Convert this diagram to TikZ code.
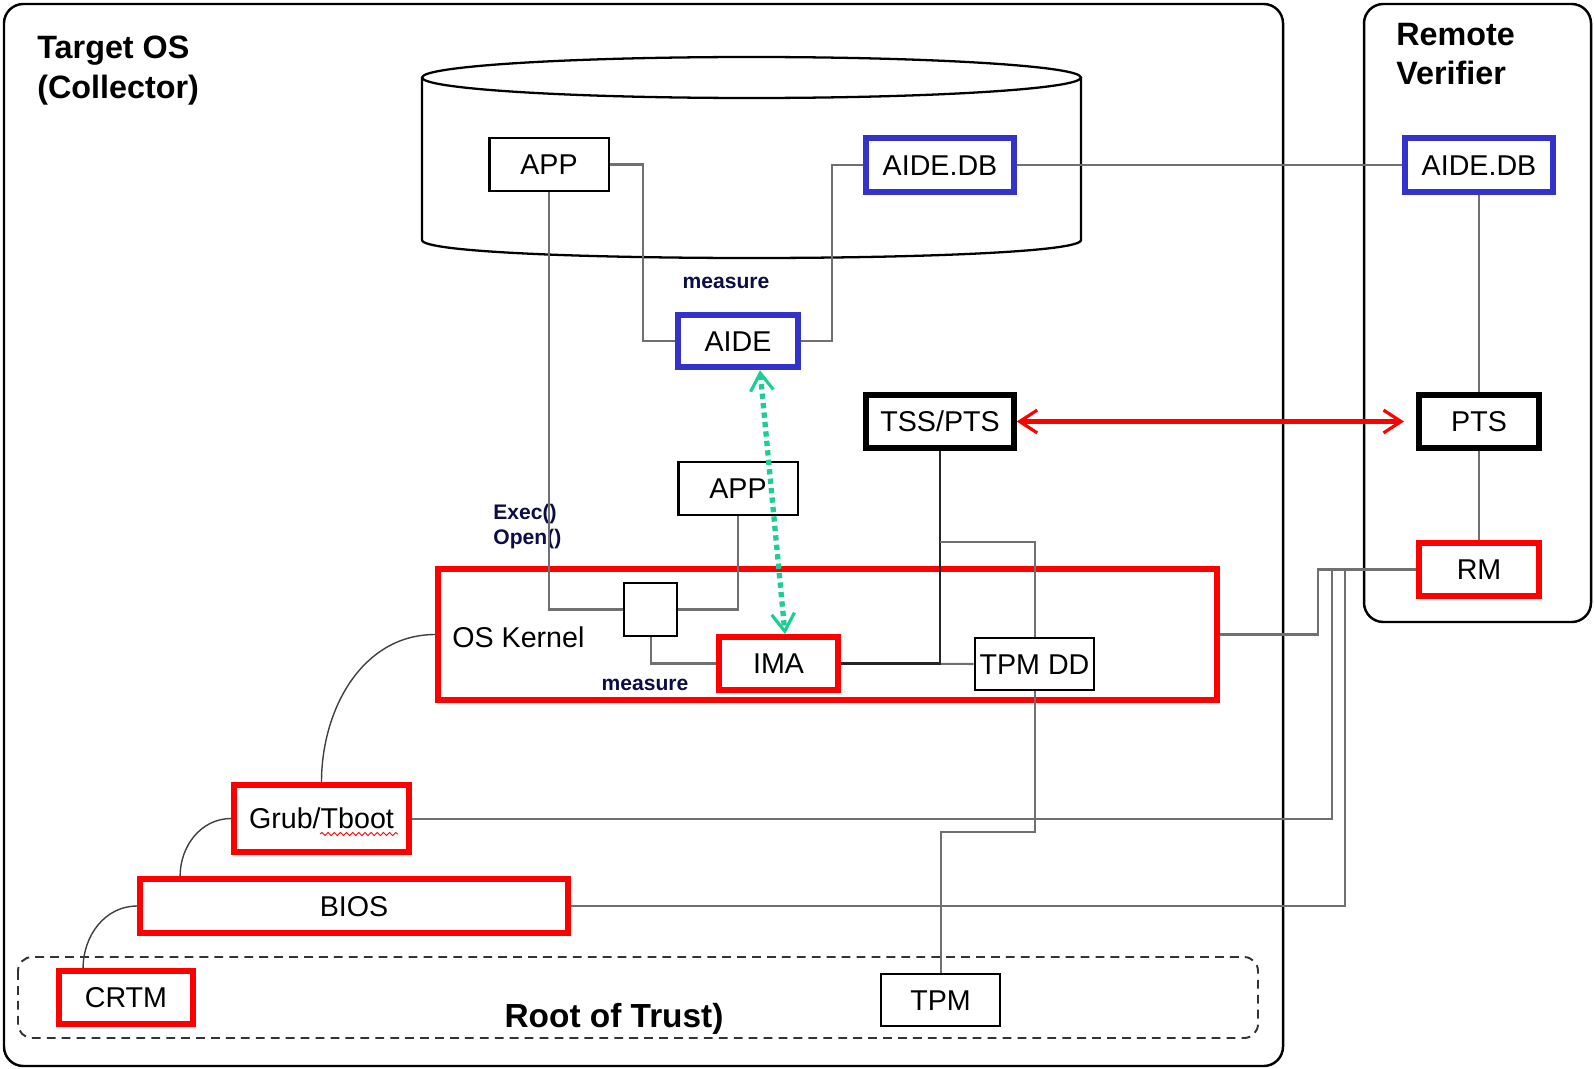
\documentclass[tikz,border=0pt]{standalone}
\usepackage{fontspec}
\setmainfont{Liberation Sans}
\usepackage{tikz}
\usetikzlibrary{arrows.meta, decorations.pathmorphing, positioning}
\definecolor{aideblue}{RGB}{51,51,204}
\definecolor{wiregray}{RGB}{112,112,112}
\definecolor{notenavy}{RGB}{12,12,72}
\definecolor{attestgreen}{RGB}{26,206,148}
\tikzset{every picture/.style={/utils/exec={\fontsize{16.3}{19.5}\selectfont}}}

\begin{document}
\begin{tikzpicture}[x=0.02cm, y=-0.02cm, >={Straight Barb[length=10pt, width=13pt, line width=1.8pt]},
        box/.style={draw, fill=white, inner sep=0pt, line width=1.4pt,
            minimum width=2.39cm, minimum height=1.05cm, text height=11.7pt, text depth=0pt},
        bluebox/.style={box, draw=aideblue, line width=3.4pt},
        redbox/.style={box, draw=red, line width=3.6pt},
        heavybox/.style={box, line width=3.4pt},
        wide/.style={minimum width=2.95cm, minimum height=1.07cm},
        wire/.style={draw=wiregray, line width=1.15pt},
        bootwire/.style={draw=black!75, line width=0.8pt},
        note/.style={font=\fontsize{12}{14.2}\selectfont\bfseries, text=notenavy, inner sep=0pt},
        heading/.style={font=\fontsize{18.4}{22.5}\selectfont\bfseries, align=left, anchor=west, inner sep=0pt}]
    \useasboundingbox (0, 0) rectangle (1594, 1068);

    % Frames
    \draw[line width=1.4pt, rounded corners=11pt] (4, 4) rectangle (1283, 1066);
    \draw[line width=1.4pt, rounded corners=11pt] (1364, 4) rectangle (1591, 622);
    \draw[black!80, line width=1.1pt, dash pattern=on 5pt off 3.5pt, rounded corners=8pt] (18, 957) rectangle (1258, 1038);

    % Storage
    \draw[line width=1.3pt] (422, 78) -- (422, 240) .. controls (422, 264) and (1081, 264) .. (1081, 240) -- (1081, 78);
    \draw[line width=1.3pt] (751.5, 77.5) ellipse [x radius=6.59cm, y radius=0.41cm];

    % Nodes
    \node[heading] (target) at (37, 70.5) {Target OS\\(Collector)};
    \node[heading] (remote) at (1396, 54) {Remote\\Verifier};
    \node[box] (appTop) at (549, 164.5) {APP};
    \node[bluebox, wide] (dbLocal) at (940, 165) {AIDE.DB};
    \node[bluebox, wide] (dbRemote) at (1479, 165) {AIDE.DB};
    \node[bluebox] (aide) at (738, 341) {AIDE};
    \node[heavybox, wide] (tss) at (940, 421.5) {TSS/PTS};
    \node[heavybox] (pts) at (1479, 421.5) {PTS};
    \node[redbox] (rm) at (1479, 569.5) {RM};
    \node[box] (appMid) at (738, 488.5) {APP};
    \node[draw=red, line width=3.6pt, inner sep=0pt, minimum width=15.57cm, minimum height=2.61cm] (kernel) at (827.5, 634.5) {};
    \node[anchor=west, inner sep=0pt, text height=11.7pt, text depth=0pt] (kernelText) at (452, 637) {OS Kernel};
    \node[box, minimum width=1.05cm] (hook) at (650.5, 609.5) {};
    \node[redbox] (ima) at (778.5, 663.5) {IMA};
    \node[box] (tpmdd) at (1034.5, 664) {TPM DD};
    \node[box] (tpm) at (940.5, 1000) {TPM};
    \node[redbox, minimum width=3.49cm, minimum height=1.33cm] (grub) at (321.5, 818.5) {Grub/Tboot};
    \node[redbox, minimum width=8.55cm, minimum height=1.07cm] (bios) at (354, 906) {BIOS};
    \node[redbox, minimum width=2.67cm] (crtm) at (126, 997.5) {CRTM};
    \node[font=\fontsize{19}{22}\selectfont\bfseries, anchor=base, inner sep=0pt] (rootText) at (614, 1027) {Root of Trust)};
    \node[note, anchor=base] (measureTop) at (726, 288.5) {measure};
    \node[note, anchor=base] (measureLow) at (645, 690.5) {measure};
    \node[note, align=left, anchor=west] (calls) at (493, 526.5) {Exec()\\Open()};

    % Wires
    \draw[wire] (appTop.east) -- ++(33, 0) |- (aide.west);
    \draw[wire] (dbLocal.west) -- ++(-31, 0) |- (aide.east);
    \draw[wire] (dbLocal.east) -- (dbRemote.west);
    \draw[wire] (dbRemote.south) -- (pts.north);
    \draw[wire] (pts.south) -- (rm.north);
    \draw[wire] (appTop.south) |- (hook.west);
    \draw[wire] (appMid.south) |- (hook.east);
    \draw[wire] (hook.south) |- (ima.west);
    \draw[wire] (ima.east) -- (tpmdd.west);
    \draw[line width=1.2pt, black!85] (tss.south) |- (ima.east);
    \coordinate (tap) at (940, 542);
    \draw[wire] (tap) -| (tpmdd.north);
    \draw[wire] (tpmdd.south) -- ++(0, 141) -| (tpm.north);
    \draw[wire] (kernel.east) -| (1318, 569.5) -- (rm.west);
    \draw[wire] (grub.east) -| (1332, 569.5) -- (rm.west);
    \draw[wire] (bios.east) -| (1345, 569.5) -- (rm.west);

    % Boot chain
    \draw[bootwire] (kernel.west) to[out=180, in=90] (grub.north);
    \draw[bootwire] (grub.west) to[out=180, in=90] ([xshift=0.86cm]bios.north west);
    \draw[bootwire] (bios.west) to[out=180, in=90] ([xshift=0.54cm]crtm.north west);
    \draw[red, line width=0.5pt, decorate, decoration={snake, amplitude=0.9pt, segment length=3.5pt}] ([xshift=-0.03cm, yshift=-0.31cm]grub.center) -- ++(78, 0);

    % Attestation
    \draw[red, line width=2.6pt, <->, shorten >=7pt] (tss.east) -- (pts.west);
    \draw[attestgreen, line width=3pt, dash pattern=on 3pt off 2.4pt, <->] ([xshift=0.44cm]aide.south) -- ([xshift=0.13cm]ima.north);
\end{tikzpicture}
\end{document}
